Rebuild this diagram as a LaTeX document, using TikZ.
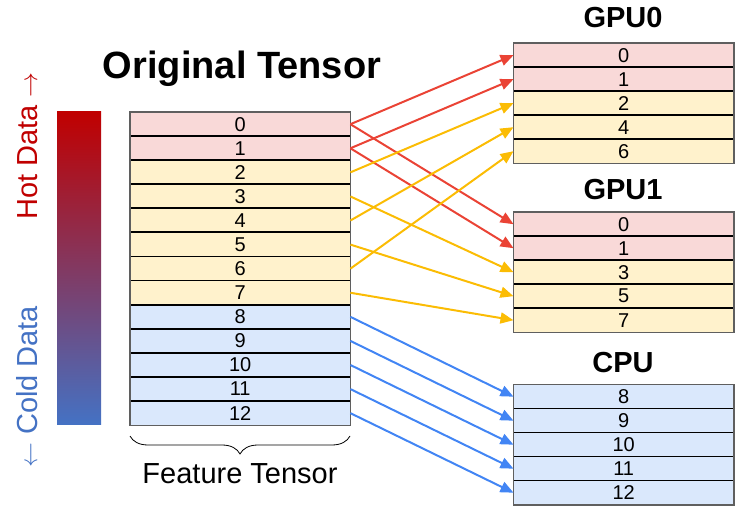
\documentclass[tikz,border=0pt]{standalone}
\usepackage{fontspec}
\setmainfont{Liberation Sans}
\usetikzlibrary{arrows.meta,decorations.pathreplacing}
\definecolor{hotfill}{HTML}{F9D9D8}
\definecolor{warmfill}{HTML}{FFF2CC}
\definecolor{coldfill}{HTML}{DAE8FC}
\definecolor{redarrow}{HTML}{EA4335}
\definecolor{yelarrow}{HTML}{FBBC04}
\definecolor{bluearrow}{HTML}{4285F4}
\definecolor{hotred}{HTML}{C00000}
\definecolor{coldblue}{HTML}{4472C4}
\definecolor{midpurple}{HTML}{92508A}
\definecolor{boxgray}{HTML}{5F5F5F}
\begin{document}
\begin{tikzpicture}[x=1pt,y=-1pt,
  cell/.style={minimum width=220pt,minimum height=24pt,inner sep=0pt,anchor=north west,
    font=\fontsize{20}{20}\selectfont},
  sep/.style={black,line width=1.8pt},
  outer/.style={boxgray,line width=1.3pt},
  title/.style={anchor=base,font=\fontsize{29}{29}\selectfont\bfseries},
  arr/.style={line width=2pt,-{Triangle[length=13pt,width=11pt]}},
  side/.style={rotate=90,font=\fontsize{29}{29}\selectfont}]
\useasboundingbox (0,0) rectangle (748,513);
% gradient bar
\shade[top color=hotred,middle color=midpurple,bottom color=coldblue] (57,112) rectangle (101,425);
\node[side,anchor=base east,text=hotred,inner sep=0pt] (hot) at (37,72) {Hot Data $\rightarrow$};
\node[side,anchor=base west,text=coldblue,inner sep=0pt] (cold) at (37,468) {$\leftarrow$ Cold Data};
% original tensor
\node[title,font=\fontsize{38}{38}\selectfont\bfseries] (otitle) at (242,79) {Original Tensor};
\foreach \i in {0,1} \node[cell,fill=hotfill] (o\i) at (130,{112+24.08*\i}) {\i};
\foreach \i in {2,...,7} \node[cell,fill=warmfill] (o\i) at (130,{112+24.08*\i}) {\i};
\foreach \i in {8,...,12} \node[cell,fill=coldfill] (o\i) at (130,{112+24.08*\i}) {\i};
\foreach \i in {1,...,12} \draw[sep] (o\i.north west) -- (o\i.north east);
\draw[outer] (o0.north west) rectangle (o12.south east);
\draw[decorate,decoration={brace,mirror,amplitude=18pt},line width=0.8pt] (130,436) -- (350,436);
\node[anchor=base,font=\fontsize{29}{29}\selectfont] (ftlabel) at (240,483) {Feature Tensor};
% GPU0
\node[title] (t0) at (623,28) {GPU0};
\foreach \v [count=\k from 0] in {0,1} \node[cell,fill=hotfill] (gpu0-\v) at (513.5,{43+24*\k}) {\v};
\foreach \v [count=\k from 2] in {2,4,6} \node[cell,fill=warmfill] (gpu0-\v) at (513.5,{43+24*\k}) {\v};
\foreach \v in {1,2,4,6} \draw[sep] (gpu0-\v.north west) -- (gpu0-\v.north east);
\draw[outer] (gpu0-0.north west) rectangle (gpu0-6.south east);
% GPU1
\node[title] (t1) at (623,200) {GPU1};
\foreach \v [count=\k from 0] in {0,1} \node[cell,fill=hotfill] (gpu1-\v) at (513.5,{212+24*\k}) {\v};
\foreach \v [count=\k from 2] in {3,5,7} \node[cell,fill=warmfill] (gpu1-\v) at (513.5,{212+24*\k}) {\v};
\foreach \v in {1,3,5,7} \draw[sep] (gpu1-\v.north west) -- (gpu1-\v.north east);
\draw[outer] (gpu1-0.north west) rectangle (gpu1-7.south east);
% CPU
\node[title] (t2) at (623,373) {CPU};
\foreach \v [count=\k from 0] in {8,...,12} \node[cell,fill=coldfill] (cpu-\v) at (513.5,{384.5+24*\k}) {\v};
\foreach \v in {9,...,12} \draw[sep] (cpu-\v.north west) -- (cpu-\v.north east);
\draw[outer] (cpu-8.north west) rectangle (cpu-12.south east);
% arrows
\draw[arr,redarrow] (o0.east) -- (gpu0-0.west);
\draw[arr,redarrow] (o1.east) -- (gpu0-1.west);
\draw[arr,redarrow] (o0.east) -- (gpu1-0.west);
\draw[arr,redarrow] (o1.east) -- (gpu1-1.west);
\draw[arr,yelarrow] (o2.east) -- (gpu0-2.west);
\draw[arr,yelarrow] (o4.east) -- (gpu0-4.west);
\draw[arr,yelarrow] (o6.east) -- (gpu0-6.west);
\draw[arr,yelarrow] (o3.east) -- (gpu1-3.west);
\draw[arr,yelarrow] (o5.east) -- (gpu1-5.west);
\draw[arr,yelarrow] (o7.east) -- (gpu1-7.west);
\foreach \v in {8,...,12} \draw[arr,bluearrow] (o\v.east) -- (cpu-\v.west);
\end{tikzpicture}
\end{document}
